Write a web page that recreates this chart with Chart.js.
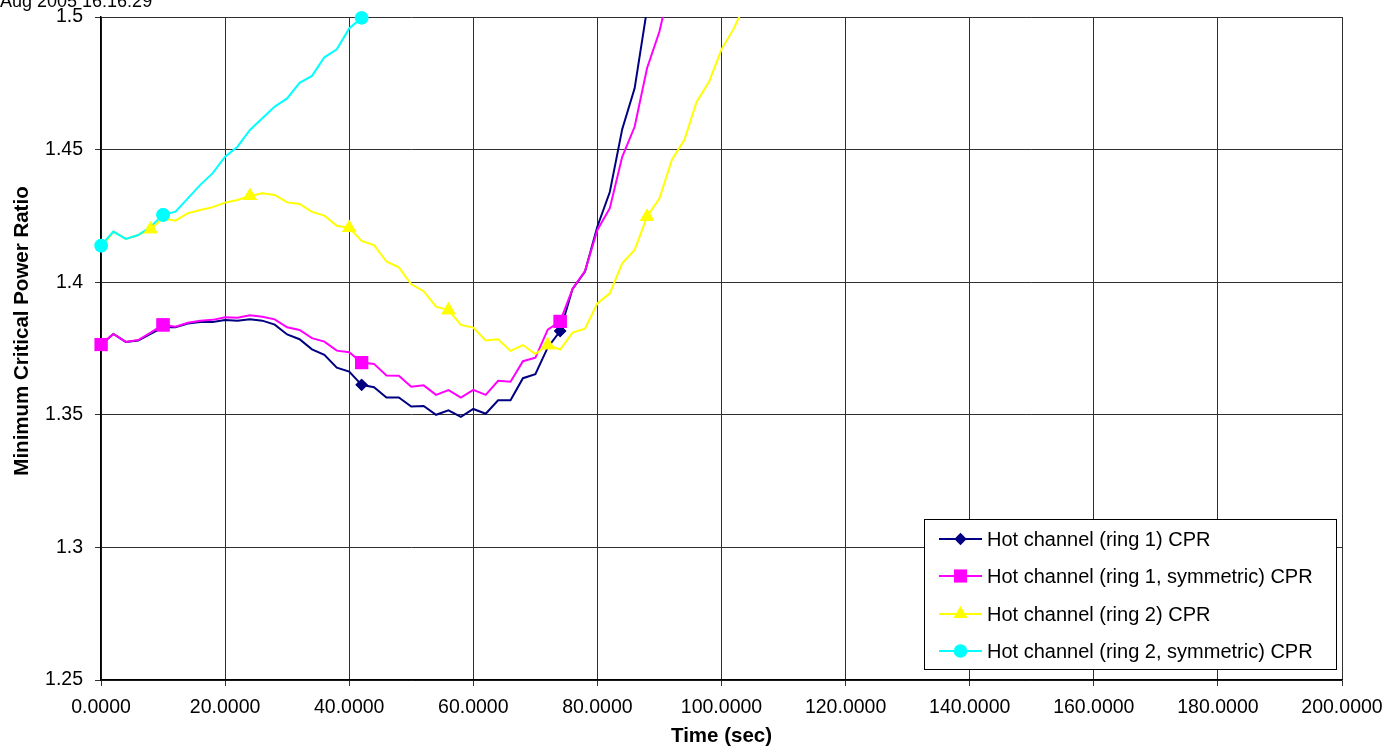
<!DOCTYPE html>
<html>
<head>
<meta charset="utf-8">
<title>Minimum Critical Power Ratio</title>
<script src="https://cdn.jsdelivr.net/npm/chart.js@4.4.1/dist/chart.umd.min.js"></script>
<style>
  html, body { margin: 0; padding: 0; background: #ffffff; }
  #wrap { position: relative; width: 1389px; height: 751px; }
</style>
</head>
<body>
<div id="wrap"><canvas id="mcpr" width="1389" height="751"></canvas></div>
<script>
// time axis (sec), one sample every 2 s
const times = [0, 2, 4, 6, 8, 10, 12, 14, 16, 18, 20, 22, 24, 26, 28, 30, 32, 34, 36, 38,
  40, 42, 44, 46, 48, 50, 52, 54, 56, 58, 60, 62, 64, 66, 68, 70, 72, 74, 76, 78,
  80, 82, 84, 86, 88, 90, 92, 94, 96, 98, 100, 102, 104];

// Hot channel (ring 1) CPR
const ring1 = [1.3765, 1.3805, 1.3775, 1.3780, 1.3805, 1.3830, 1.3830, 1.3844, 1.3850, 1.3850,
  1.3857, 1.3855, 1.3860, 1.3855, 1.3840, 1.3803, 1.3785, 1.3747, 1.3726, 1.3678,
  1.3663, 1.3613, 1.3604, 1.3565, 1.3565, 1.3531, 1.3533, 1.3500, 1.3517, 1.3492,
  1.3522, 1.3504, 1.3555, 1.3555, 1.3638, 1.3653, 1.3754, 1.3816, 1.3975, 1.4040,
  1.4210, 1.4340, 1.4577, 1.4731, 1.5030, 1.5300];

// Hot channel (ring 1, symmetric) CPR
const ring1Sym = [1.3765, 1.3805, 1.3775, 1.3782, 1.3810, 1.3839, 1.3832, 1.3847, 1.3855, 1.3858,
  1.3868, 1.3866, 1.3875, 1.3870, 1.3860, 1.3830, 1.3820, 1.3789, 1.3776, 1.3742,
  1.3736, 1.3697, 1.3692, 1.3648, 1.3647, 1.3606, 1.3611, 1.3575, 1.3593, 1.3565,
  1.3594, 1.3575, 1.3628, 1.3625, 1.3702, 1.3715, 1.3821, 1.3852, 1.3975, 1.4042,
  1.4197, 1.4279, 1.4473, 1.4586, 1.4807, 1.4945, 1.5150];

// Hot channel (ring 2) CPR
const ring2 = [1.4128, 1.4191, 1.4163, 1.4178, 1.4200, 1.4241, 1.4232, 1.4260, 1.4272, 1.4283,
  1.4300, 1.4310, 1.4325, 1.4335, 1.4329, 1.4301, 1.4295, 1.4265, 1.4251, 1.4213,
  1.4205, 1.4156, 1.4140, 1.4078, 1.4056, 1.3992, 1.3966, 1.3908, 1.3895, 1.3839,
  1.3829, 1.3780, 1.3785, 1.3741, 1.3763, 1.3729, 1.3763, 1.3746, 1.3810, 1.3825,
  1.3920, 1.3958, 1.4071, 1.4122, 1.4247, 1.4316, 1.4461, 1.4536, 1.4681, 1.4756,
  1.4878, 1.4957, 1.5060];

// Hot channel (ring 2, symmetric) CPR
const ring2Sym = [1.4138, 1.4191, 1.4163, 1.4178, 1.4209, 1.4254, 1.4266, 1.4316, 1.4367, 1.4411,
  1.4473, 1.4511, 1.4574, 1.4618, 1.4662, 1.4693, 1.4752, 1.4778, 1.4848, 1.4878,
  1.4957, 1.4997, 1.5100];

// times at which a marker is shown on each series
const ring1Marks = [42, 74];
const ring1SymMarks = [0, 10, 42, 74];
const ring2Marks = [8, 24, 40, 56, 72, 88];
const ring2SymMarks = [0, 10, 42];

const seriesLabels = [
  'Hot channel (ring 1) CPR',
  'Hot channel (ring 1, symmetric) CPR',
  'Hot channel (ring 2) CPR',
  'Hot channel (ring 2, symmetric) CPR'
];

const xTicks = [0, 20, 40, 60, 80, 100, 120, 140, 160, 180, 200];
const yTicks = [1.25, 1.3, 1.35, 1.4, 1.45, 1.5];

const FONT = "'Liberation Sans', Arial, sans-serif";

function toPoints(vals) {
  return vals.map((v, i) => ({ x: times[i], y: v }));
}

function makeSet(label, vals, marks, color, style, radius, order) {
  return {
    label: label,
    data: toPoints(vals),
    borderColor: color,
    backgroundColor: color,
    borderWidth: 2,
    pointStyle: style,
    pointBorderWidth: 0,
    pointRadius: ctx => (ctx.raw && marks.includes(ctx.raw.x)) ? radius : 0,
    pointHoverRadius: 0,
    tension: 0,
    order: order,
    _legendRadius: radius
  };
}

const datasets = [
  makeSet(seriesLabels[0], ring1, ring1Marks, '#000080', 'rectRot', 6.2, 4),
  makeSet(seriesLabels[1], ring1Sym, ring1SymMarks, '#ff00ff', 'rect', 9.3, 3),
  makeSet(seriesLabels[2], ring2, ring2Marks, '#ffff00', 'triangle', 8.2, 2),
  makeSet(seriesLabels[3], ring2Sym, ring2SymMarks, '#00ffff', 'circle', 6.8, 1)
];

// markers sit on the plot edge in the original, so draw them again unclipped
const edgeMarkers = {
  id: 'edgeMarkers',
  afterDatasetsDraw(chart) {
    const ctx = chart.ctx;
    const metas = chart.getSortedVisibleDatasetMetas().slice().reverse();
    metas.forEach(meta => {
      meta.data.forEach(pt => {
        if (pt.options && pt.options.radius > 0) pt.draw(ctx);
      });
    });
  }
};

// legend drawn inside the plot, lower right, like the spreadsheet original
const boxLegend = {
  id: 'boxLegend',
  afterDraw(chart) {
    const ctx = chart.ctx;
    const x0 = 924.5, y0 = 519.5, w = 412, h = 150;
    ctx.save();
    ctx.fillStyle = '#ffffff';
    ctx.fillRect(x0, y0, w, h);
    ctx.strokeStyle = '#000000';
    ctx.lineWidth = 1;
    ctx.strokeRect(x0, y0, w, h);
    const rows = [539, 576, 614, 651];
    chart.data.datasets.forEach((ds, i) => {
      const y = rows[i];
      ctx.strokeStyle = ds.borderColor;
      ctx.lineWidth = 2;
      ctx.beginPath();
      ctx.moveTo(939, y);
      ctx.lineTo(982, y);
      ctx.stroke();
      ctx.fillStyle = ds.backgroundColor;
      Chart.helpers.drawPoint(ctx, {
        pointStyle: ds.pointStyle,
        radius: ds._legendRadius,
        rotation: 0,
        borderWidth: 0
      }, 960.5, y);
      ctx.fillStyle = '#000000';
      ctx.font = '20px ' + FONT;
      ctx.textAlign = 'left';
      ctx.textBaseline = 'middle';
      ctx.fillText(ds.label, 987, y + 1);
    });
    ctx.restore();
  }
};

// time stamp at the very top (cut off by the page edge) and the y axis title,
// which sits a little above the middle of the axis in the original
const extraText = {
  id: 'extraText',
  afterDraw(chart) {
    const ctx = chart.ctx;
    ctx.save();
    ctx.fillStyle = '#000000';
    ctx.font = '18px ' + FONT;
    ctx.textAlign = 'left';
    ctx.textBaseline = 'alphabetic';
    ctx.fillText('Aug 2005 16:16:29', 0, 7);

    ctx.translate(22, 331);
    ctx.rotate(-Math.PI / 2);
    ctx.font = 'bold 20.5px ' + FONT;
    ctx.textAlign = 'center';
    ctx.textBaseline = 'middle';
    ctx.fillText('Minimum Critical Power Ratio', 0, 0);
    ctx.restore();
  }
};

new Chart(document.getElementById('mcpr'), {
  type: 'line',
  data: { datasets: datasets },
  plugins: [edgeMarkers, boxLegend, extraText],
  options: {
    responsive: false,
    devicePixelRatio: 1,
    animation: false,
    events: [],
    layout: { padding: { top: 17, right: 47, left: 0, bottom: 0 } },
    plugins: {
      legend: { display: false },
      tooltip: { enabled: false }
    },
    scales: {
      x: {
        type: 'linear',
        min: 0,
        max: 200,
        afterBuildTicks: scale => { scale.ticks = xTicks.map(v => ({ value: v })); },
        afterFit: scale => {
          scale.height = 71;
          scale.paddingLeft = 0;
          scale.paddingRight = 0;
        },
        ticks: {
          color: '#000000',
          font: { family: FONT, size: 19.5 },
          padding: 10,
          maxRotation: 0,
          autoSkip: false,
          callback: v => Number(v).toFixed(4)
        },
        grid: { color: '#303030', lineWidth: 1, tickLength: 6, drawTicks: true },
        border: { color: '#000000', width: 1.5 },
        title: {
          display: true,
          text: 'Time (sec)',
          color: '#000000',
          font: { family: FONT, size: 20.5, weight: 'bold' },
          padding: { top: 0, bottom: 2 }
        }
      },
      y: {
        type: 'linear',
        min: 1.25,
        max: 1.5,
        afterBuildTicks: scale => { scale.ticks = yTicks.map(v => ({ value: v })); },
        afterFit: scale => {
          scale.width = 101;
          scale.paddingTop = 0;
          scale.paddingBottom = 0;
        },
        ticks: {
          color: '#000000',
          font: { family: FONT, size: 19.5 },
          padding: 12,
          autoSkip: false,
          callback: v => String(Math.round(v * 100) / 100)
        },
        grid: { color: '#303030', lineWidth: 1, tickLength: 6, drawTicks: true },
        border: { color: '#000000', width: 1.5 },
        title: { display: false }
      }
    }
  }
});
</script>
</body>
</html>
